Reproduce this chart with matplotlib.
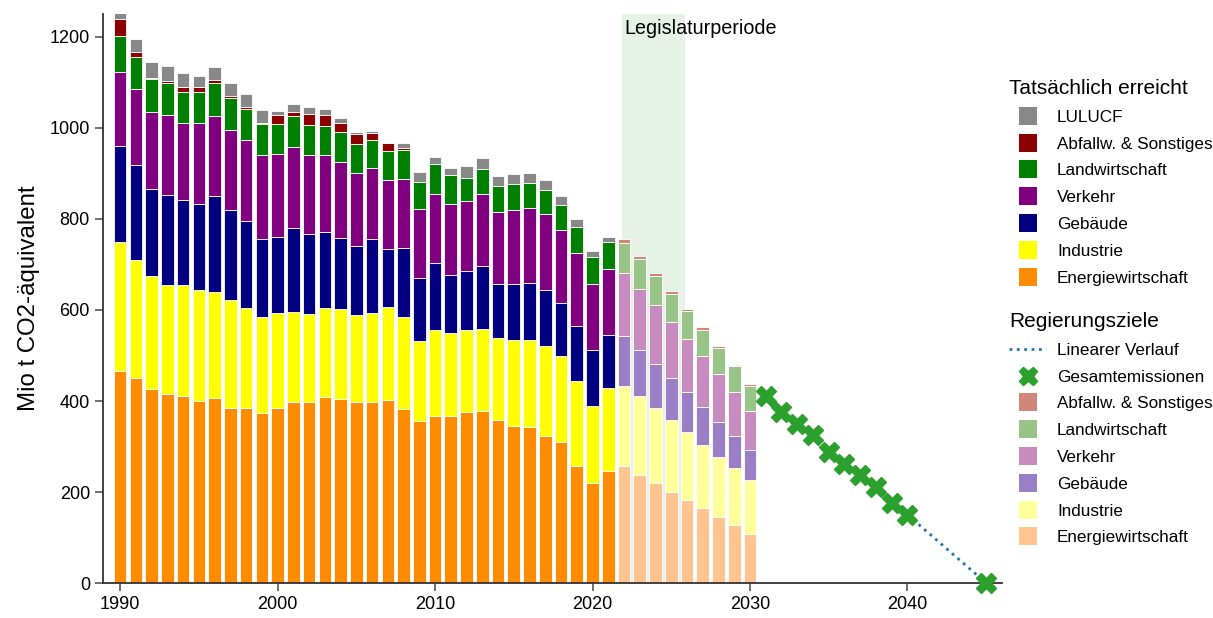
import numpy as np
import matplotlib.pyplot as plt
from matplotlib.lines import Line2D

plt.rcParams['font.family'] = ['Liberation Sans', 'DejaVu Sans']

# Tatsaechlich erreicht (Mio t CO2-Aequivalent), 1990-2021
jahre_ist = list(range(1990, 2022))
energie_ist = [466, 450, 426, 416, 410, 400, 406, 385, 385, 373, 385, 397, 397, 408, 404, 397,
               397, 402, 383, 356, 367, 366, 375, 379, 359, 346, 343, 322, 310, 258, 220, 247]
industrie_ist = [284, 260, 249, 239, 244, 245, 234, 238, 219, 211, 208, 198, 195, 196, 198, 191,
                 197, 205, 202, 176, 189, 184, 181, 180, 180, 189, 192, 198, 188, 185, 170, 182]
gebaeude_ist = [210, 208, 190, 197, 187, 187, 210, 197, 191, 171, 168, 185, 174, 167, 156, 153,
                161, 127, 151, 138, 147, 128, 130, 138, 118, 122, 124, 123, 117, 121, 121, 115]
verkehr_ist = [163, 167, 171, 176, 171, 178, 177, 176, 178, 185, 181, 178, 175, 170, 168, 160,
               156, 152, 152, 152, 153, 155, 153, 159, 158, 163, 166, 167, 161, 162, 147, 147]
landwirtschaft_ist = [80, 71, 71, 70, 68, 68, 71, 69, 68, 69, 67, 69, 65, 64, 65, 64,
                      63, 63, 63, 60, 64, 63, 50, 54, 57, 57, 53, 53, 54, 57, 59, 58]
abfall_ist = [37, 10, 2, 5, 9, 13, 7, 6, 5, 1, 19, 8, 25, 23, 21, 21,
              15, 19, 6, 0, 0, 0, 0, 0, 0, 0, 0, 0, 0, 0, 0, 0]
lulucf_ist = [12, 29, 37, 34, 31, 23, 28, 28, 28, 30, 9, 18, 16, 13, 10, 5,
              5, 0, 11, 21, 16, 16, 28, 24, 22, 21, 23, 23, 20, 17, 12, 11]

# Regierungsziele je Sektor, 2022-2030
jahre_ziel = list(range(2022, 2031))
energie_ziel = [257, 238, 220, 201, 183, 164, 145, 127, 108]
industrie_ziel = [177, 172, 165, 157, 149, 140, 132, 125, 118]
gebaeude_ziel = [108, 102, 97, 92, 87, 82, 77, 72, 67]
verkehr_ziel = [139, 134, 128, 123, 117, 112, 105, 96, 85]
landwirtschaft_ziel = [67, 66, 64, 63, 61, 59, 57, 56, 56]
abfall_ziel = [8, 7, 7, 6, 6, 5, 5, 4, 4]

# Gesamtemissionen-Ziele
jahre_gesamt = [2031, 2032, 2033, 2034, 2035, 2036, 2037, 2038, 2039, 2040, 2045]
gesamt_ziel = [412, 375, 350, 325, 287, 262, 237, 212, 175, 150, 0]
jahre_linear = [2040, 2045]
linear_ziel = [150, 0]

namen = ['Energiewirtschaft', 'Industrie', 'Gebäude', 'Verkehr', 'Landwirtschaft',
         'Abfallw. & Sonstiges', 'LULUCF']
farben_ist = ['#ff8c00', '#ffff00', '#000080', '#800080', '#008000', '#8b0000', '#888888']
farben_ziel = ['#ffc490', '#ffff99', '#9a7ec6', '#c78bc0', '#98c488', '#d0877a']

fig = plt.figure(figsize=(12.13, 6.18), dpi=100)
ax = fig.add_axes([0.085, 0.0566, 0.741, 0.9204])

ax.axvspan(2021.85, 2025.85, color='green', alpha=0.1, lw=0, zorder=0)
ax.text(2022.0, 1219, 'Legislaturperiode', fontsize=14.2, va='center', ha='left')

serien_ist = [energie_ist, industrie_ist, gebaeude_ist, verkehr_ist,
              landwirtschaft_ist, abfall_ist, lulucf_ist]
unten = np.zeros(len(jahre_ist))
for werte, farbe in zip(serien_ist, farben_ist):
    ax.bar(jahre_ist, werte, bottom=unten, width=0.8, color=farbe,
           edgecolor='white', linewidth=0.6, zorder=2)
    unten += np.array(werte)

serien_ziel = [energie_ziel, industrie_ziel, gebaeude_ziel, verkehr_ziel,
               landwirtschaft_ziel, abfall_ziel]
unten = np.zeros(len(jahre_ziel))
for werte, farbe in zip(serien_ziel, farben_ziel):
    ax.bar(jahre_ziel, werte, bottom=unten, width=0.8, color=farbe,
           edgecolor='white', linewidth=0.6, zorder=2)
    unten += np.array(werte)

ax.plot(jahre_linear, linear_ziel, ls=':', color='#1f77b4', lw=2, zorder=3)
ax.plot(jahre_gesamt, gesamt_ziel, ls='none', marker='X', ms=14, color='#2ca02c',
        zorder=4, clip_on=False)

ax.set_xlim(1988.92, 2046)
ax.set_ylim(0, 1250)
ax.set_xticks([1990, 2000, 2010, 2020, 2030, 2040])
ax.set_yticks([0, 200, 400, 600, 800, 1000, 1200])
ax.set_ylabel('Mio t CO2-äquivalent', fontsize=17.3, labelpad=7)
ax.tick_params(labelsize=13, length=6, width=1.2, color='#555555')
for s in ['top', 'right']:
    ax.spines[s].set_visible(False)
for s in ['left', 'bottom']:
    ax.spines[s].set_linewidth(1.3)
    ax.spines[s].set_color('#333333')

# Legenden
stil = dict(loc='upper left', frameon=False, fontsize=12.3, title_fontsize=15,
            alignment='left', handlelength=2.17, handletextpad=0.64,
            labelspacing=0.69, borderpad=0, borderaxespad=0)

griffe_ist = [Line2D([], [], ls='none', marker='s', ms=12.5, mew=0, color=c)
              for c in farben_ist[::-1]]
leg1 = fig.legend(griffe_ist, namen[::-1], title='Tatsächlich erreicht',
                  bbox_to_anchor=(1009 / 1213, 1 - 79 / 618), **stil)

griffe_ziel = [Line2D([], [], ls=':', color='#1f77b4', lw=2),
               Line2D([], [], ls='none', marker='X', ms=13, color='#2ca02c')]
griffe_ziel += [Line2D([], [], ls='none', marker='s', ms=12.5, mew=0, color=c)
                for c in farben_ziel[::-1]]
namen_ziel = ['Linearer Verlauf', 'Gesamtemissionen'] + namen[:6][::-1]
leg2 = fig.legend(griffe_ziel, namen_ziel, title='Regierungsziele',
                  bbox_to_anchor=(1009 / 1213, 1 - 312 / 618), **stil)

fig.savefig('out.png', dpi=100)
